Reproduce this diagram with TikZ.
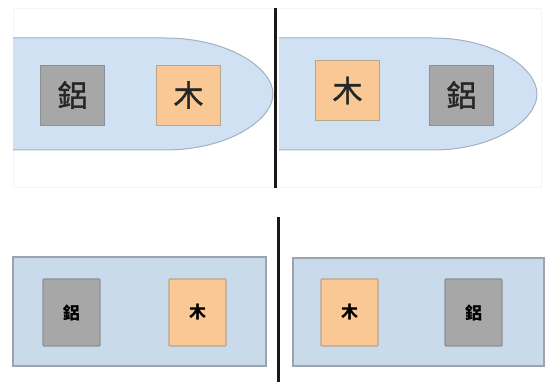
\documentclass[tikz,border=0pt]{standalone}
\usepackage{fontspec}
\newfontfamily\cjk{Noto Sans CJK TC}
\newfontfamily\cjkmed{Noto Sans CJK TC}[FakeBold=1.2]
\definecolor{hullblue}{HTML}{CFE1F3}
\definecolor{hullline}{HTML}{A3B1C2}
\definecolor{slabblue}{HTML}{C9DAEB}
\definecolor{slabline}{HTML}{9CA3AC}
\definecolor{alugray}{HTML}{A7A7A7}
\definecolor{aluline}{HTML}{8C9098}
\definecolor{woodorange}{HTML}{F9C894}
\definecolor{woodline}{HTML}{B8A58E}
\tikzset{
  blockbig/.style={draw, line width=0.8pt, minimum width=64pt, minimum height=60pt, inner sep=0pt, text=black!85, font=\cjkmed\fontsize{30}{30}\selectfont},
  blocksmall/.style={draw, line width=1.2pt, rounded corners=1pt, minimum width=57pt, minimum height=67pt, inner sep=0pt, font=\cjk\bfseries\fontsize{17}{17}\selectfont},
  alu/.style={fill=alugray, draw=aluline},
  wood/.style={fill=woodorange, draw=woodline},
  divider/.style={line width=3pt, black!90},
  panel/.style={draw=black!4, line width=0.5pt}
}
\begin{document}
\begin{tikzpicture}[x=1pt,y=-1pt]
  \useasboundingbox[fill=white] (0,0) rectangle (550,382);
  % faint panels behind the upper pair
  \draw[panel] (13,8) rectangle (275,187);
  \draw[panel] (275,8) rectangle (541,187);
  % upper left hull (bow pointing right)
  \fill[hullblue] (13,38) -- (165,38) .. controls (228,38) and (273,68) .. (273,94)
        .. controls (273,120) and (228,150) .. (165,150) -- (13,150) -- cycle;
  \draw[hullline, line width=1pt] (13,38) -- (165,38) .. controls (228,38) and (273,68) .. (273,94)
        .. controls (273,120) and (228,150) .. (165,150) -- (13,150);
  % upper right hull
  \fill[hullblue] (279,38) -- (433,38) .. controls (494,38) and (537,68) .. (537,94)
        .. controls (537,120) and (494,150) .. (433,150) -- (279,150) -- cycle;
  \draw[hullline, line width=1pt] (279,38) -- (433,38) .. controls (494,38) and (537,68) .. (537,94)
        .. controls (537,120) and (494,150) .. (433,150) -- (279,150);
  % upper blocks
  \node[blockbig, alu]  (ua1) at (72.5,95)  {鋁};
  \node[blockbig, wood] (uw1) at (188.5,95) {木};
  \node[blockbig, wood] (uw2) at (347.5,90.5) {木};
  \node[blockbig, alu]  (ua2) at (461.5,95) {鋁};
  % upper divider
  \coordinate (d1a) at (275,8);
  \coordinate (d1b) at (275,188);
  \draw[divider] (d1a) -- (d1b);
  % lower slabs
  \draw[fill=slabblue, draw=slabline, line width=1.2pt] (13,257) rectangle (266,366);
  \draw[fill=slabblue, draw=slabline, line width=1.2pt] (293,258) rectangle (544,366);
  % lower blocks
  \node[blocksmall, alu]  (la1) at (71.5,312.5)  {鋁};
  \node[blocksmall, wood] (lw1) at (197.5,312.5) {木};
  \node[blocksmall, wood] (lw2) at (349.5,312.5) {木};
  \node[blocksmall, alu]  (la2) at (473.5,312.5) {鋁};
  % lower divider
  \coordinate (d2a) at (278,217);
  \coordinate (d2b) at (278,382);
  \draw[divider] (d2a) -- (d2b);
\end{tikzpicture}
\end{document}
